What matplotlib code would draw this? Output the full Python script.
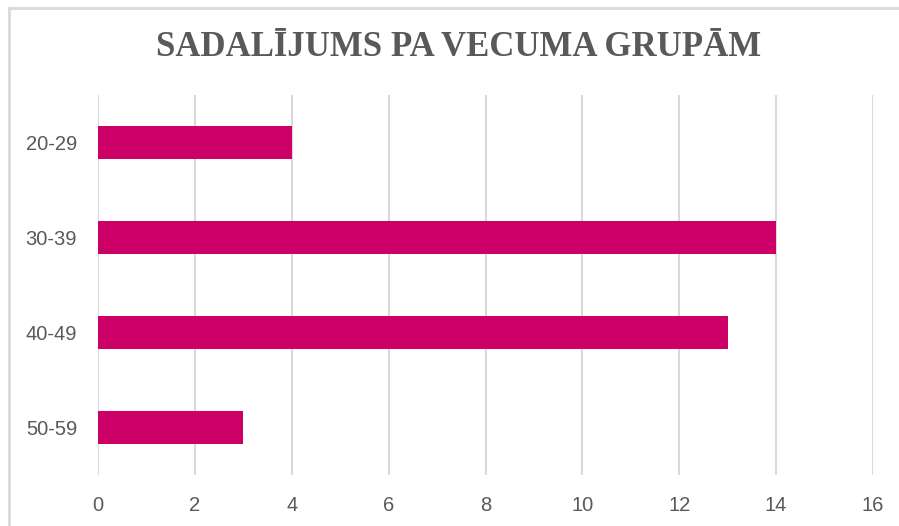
import matplotlib.pyplot as plt
from matplotlib.lines import Line2D

groups = ["20-29", "30-39", "40-49", "50-59"]
counts = [4, 14, 13, 3]
ticks = [0, 2, 4, 6, 8, 10, 12, 14, 16]

bar_color = "#CC0066"
text_color = "#595959"
grid_color = "#D9D9D9"

W, H = 899, 526
fig = plt.figure(figsize=(W / 100, H / 100), dpi=100)
ax = fig.add_axes([98 / W, 1 - 475 / H, (873 - 98) / W, (475 - 95) / H])

pos = list(range(len(groups)))
ax.barh(pos, counts, height=0.35, color=bar_color, zorder=3)
ax.set_ylim(len(groups) - 0.5, -0.5)
ax.set_yticks(pos)
ax.set_yticklabels(groups)
ax.set_xlim(0, 16)
ax.set_xticks(ticks)
ax.set_xticklabels([str(t) for t in ticks])

for s in ax.spines.values():
    s.set_visible(False)
ax.tick_params(length=0, labelsize=14.5, labelcolor=text_color)
ax.tick_params(axis="x", pad=15)
ax.tick_params(axis="y", pad=15)
for lbl in ax.get_xticklabels() + ax.get_yticklabels():
    lbl.set_family(["Liberation Sans", "DejaVu Sans"])
ax.grid(axis="x", color=grid_color, linewidth=1.5, zorder=0)
ax.grid(axis="y", visible=False)

fig.text(459 / W, 1 - 47 / H, "SADALĪJUMS PA VECUMA GRUPĀM", ha="center", va="center",
         fontsize=25, fontweight="bold", color=text_color,
         family=["Liberation Serif", "DejaVu Serif"])

# chart area border (top and left visible)
fig.add_artist(Line2D([9 / W, 9 / W], [0, 1 - 8 / H], transform=fig.transFigure,
                      color=grid_color, linewidth=2))
fig.add_artist(Line2D([9 / W, 1], [1 - 8 / H, 1 - 8 / H], transform=fig.transFigure,
                      color=grid_color, linewidth=2))

fig.savefig("out.png", dpi=100)
